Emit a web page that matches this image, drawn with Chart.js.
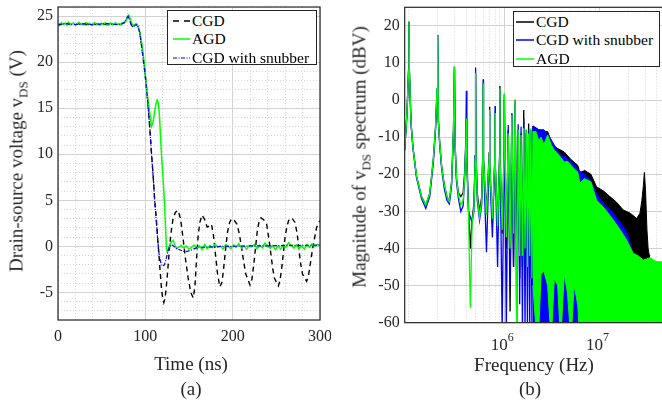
<!DOCTYPE html>
<html>
<head>
<meta charset="utf-8">
<script src="https://cdn.jsdelivr.net/npm/chart.js@4.4.0/dist/chart.umd.min.js"></script>
<style>
  body { margin: 0; background: #fff; }
  #page { position: relative; width: 662px; height: 405px; overflow: hidden;
          font-family: "Liberation Serif", "Times New Roman", serif; color: #262626; }
  canvas { position: absolute; top: 0; }
  .lbl { position: absolute; font-size: 19px; line-height: 19px; white-space: nowrap; }
  .ylbl { transform: translate(-50%, -50%) rotate(-90deg); }
  .xlbl { transform: translate(-50%, -50%); }
  .lbl sub { font-size: 13px; vertical-align: -5px; line-height: 0; }
  .legend { position: absolute; background: #fff; border: 1px solid #262626;
            font-size: 15.5px; color: #000; box-sizing: border-box; padding-top: 1px; }
  .legend div { height: 18.3px; display: flex; align-items: center; white-space: nowrap; }
</style>
</head>
<body>
<div id="page">
  <canvas id="left" width="331" height="405" style="left:0"></canvas>
  <canvas id="right" width="331" height="405" style="left:331px"></canvas>

  <div class="lbl ylbl" style="left:16px; top:161px">Drain-source voltage v<sub>DS</sub> (V)</div>
  <div class="lbl xlbl" style="left:191px; top:363px">Time (ns)</div>
  <div class="lbl xlbl" style="left:191px; top:388px">(a)</div>

  <div class="lbl ylbl" style="left:359px; top:157px">Magnitude of v<sub>DS</sub> spectrum (dBV)</div>
  <div class="lbl xlbl" style="left:534px; top:364px">Frequency (Hz)</div>
  <div class="lbl xlbl" style="left:530px; top:388px">(b)</div>

  <div class="legend" style="left:167px; top:10px; width:150px; height:55px">
    <div><svg width="17" height="4" style="margin:0 2px 0 5px"><line x1="0" y1="2" x2="17" y2="2" stroke="#000" stroke-width="1.4" stroke-dasharray="6,5"/></svg>CGD</div>
    <div><svg width="17" height="4" style="margin:0 2px 0 5px"><line x1="0" y1="2" x2="17" y2="2" stroke="#00ff00" stroke-width="1.5"/></svg>AGD</div>
    <div><svg width="17" height="4" style="margin:0 2px 0 5px"><line x1="0" y1="2" x2="17" y2="2" stroke="#0000ff" stroke-width="1.2" stroke-dasharray="4,1.5,1,1.5"/></svg>CGD with snubber</div>
  </div>

  <div class="legend" style="left:513px; top:11px; width:147px; height:56px">
    <div><svg width="18" height="4" style="margin:0 2px 0 2px"><line x1="0" y1="2" x2="18" y2="2" stroke="#000" stroke-width="1.5"/></svg>CGD</div>
    <div><svg width="18" height="4" style="margin:0 2px 0 2px"><line x1="0" y1="2" x2="18" y2="2" stroke="#0000ff" stroke-width="1.5"/></svg>CGD with snubber</div>
    <div><svg width="18" height="4" style="margin:0 2px 0 2px"><line x1="0" y1="2" x2="18" y2="2" stroke="#00ff00" stroke-width="1.5"/></svg>AGD</div>
  </div>
</div>

<script>
// ---------- (a) drain-source voltage vs time ----------
const tCGD = [0, 8, 16, 24, 32, 40, 48, 56, 64, 72,
  76, 78, 80.3, 82, 84, 86, 88, 89.8, 91.5, 93.6,
  95.5, 97.5, 99.5, 101.3, 103.2, 105.1, 107, 109, 110.8, 112.7,
  114.3, 115.8, 117.2, 118.5, 119.8, 121.2, 122.7, 124.2, 126, 128,
  130, 131.9, 134.5, 137.6, 140.5, 143.3, 146, 149, 152, 154.8,
  156.8, 158.6, 160.5, 162.4, 165, 168, 170.8, 173.5, 175.8, 178,
  180, 182.7, 185.4, 187.8, 190, 192, 194, 196.5, 198.7, 202,
  205, 207.5, 210, 212.5, 215, 219.8, 222, 224, 226, 228,
  230, 232.4, 235.5, 238.9, 241.5, 244, 246, 248, 252.3, 254,
  256, 258, 260, 262, 264, 267.5, 271.4, 274, 276, 278,
  280, 284.7, 286.5, 288, 290, 292, 294, 296, 298, 300];
const vCGD = [24.1, 24.15, 24.1, 24.2, 24.1, 24.15, 24.2, 24.1, 24.15, 24.2,
  24.3, 24.6, 25.0, 24.7, 24.1, 23.8, 23.95, 24.1, 23.9, 23.3,
  22.0, 20.5, 19.0, 17.3, 15.3, 12.9, 10.2, 7.6, 4.9, 2.8,
  0.6, -1.2, -3.0, -4.6, -5.6, -6.1, -5.6, -4.2, -2.2, 0.2,
  1.9, 3.1, 3.7, 3.9, 2.9, 0.8, -1.4, -3.4, -5.0, -5.6,
  -4.4, -1.4, 1.2, 2.6, 3.4, 2.9, 2.1, 2.2, 2.4, 1.2,
  -0.6, -3.0, -4.4, -3.9, -2.1, -0.2, 1.5, 2.6, 3.0, 2.8,
  2.4, 1.4, 0.0, -1.6, -3.0, -4.2, -3.6, -2.1, -0.3, 1.5,
  2.6, 3.1, 2.9, 2.4, 0.8, -1.0, -2.5, -3.5, -4.3, -3.8,
  -2.5, -0.8, 1.0, 2.1, 2.8, 3.1, 2.6, 1.3, -0.5, -2.0,
  -3.0, -3.8, -3.3, -2.5, -1.2, 0.0, 1.0, 2.0, 2.5, 2.8];

const tSnub = [0, 8, 16, 24, 32, 40, 48, 56, 64, 72,
  76, 78, 80.3, 82, 84, 86, 88, 89.8, 91.5, 93.6,
  95.5, 97.5, 99.5, 101.3, 103.2, 105.1, 107, 109, 110.8, 112.7,
  114.3, 115.8, 117.5, 119, 120.4, 122, 124, 126, 128, 130,
  132, 135, 140, 145, 150, 155, 160, 170, 180, 190,
  200, 220, 240, 260, 280, 300];
const vSnub = [24.05, 24.2, 24.1, 24.1, 24.2, 24.05, 24.15, 24.2, 24.1, 24.1,
  24.3, 24.7, 25.0, 24.6, 24.0, 23.8, 24.0, 24.1, 23.9, 23.2,
  21.9, 20.4, 18.9, 17.2, 15.2, 12.8, 10.1, 7.5, 4.8, 2.6,
  0.6, -0.9, -1.7, -2.05, -2.15, -2.0, -1.3, -0.5, 0.05, 0.2,
  0.05, -0.2, -0.4, -0.6, -0.5, -0.3, -0.1, -0.1, -0.05, 0.0,
  0.0, 0.05, 0.05, 0.1, 0.1, 0.15];

const tAGD = [0, 2, 4, 6, 8, 10, 12, 14, 16, 18,
  20, 22, 24, 26, 28, 30, 32, 34, 36, 38,
  40, 42, 44, 46, 48, 50, 52, 54, 56, 58,
  60, 62, 64, 66, 68, 70, 72, 74, 76, 78,
  79.5, 81, 82.5, 84, 86, 88, 89.5, 91, 92.5, 94,
  96, 98, 100, 101.5, 103, 105.1, 107, 108.5, 110, 112,
  113.5, 114.8, 116, 117.2, 118.5, 120.2, 121.5, 122.8, 124.2, 125.2,
  126.5, 128, 130, 131.9, 133.5, 135.7, 138, 141, 144, 147,
  150, 153, 156, 159, 162, 165, 168, 171, 174, 177,
  180, 183, 186, 189, 192, 195, 198, 201, 204, 207,
  210, 213, 216, 219, 222, 225, 228, 231, 234, 237,
  240, 243, 246, 249, 252, 255, 258, 261, 264, 267,
  270, 273, 276, 279, 282, 285, 288, 291, 294, 297,
  300];
const vAGD = [24.2, 24.0, 24.3, 24.1, 24.25, 24.05, 24.35, 24.1, 24.2, 24.3,
  24.0, 24.2, 24.35, 24.1, 24.2, 24.05, 24.3, 24.15, 24.25, 24.05,
  24.2, 24.3, 24.1, 24.2, 24.0, 24.25, 24.1, 24.3, 24.15, 24.05,
  24.25, 24.1, 24.2, 24.3, 24.1, 24.2, 24.05, 24.25, 24.3, 24.5,
  24.9, 25.1, 24.8, 24.3, 24.0, 24.1, 24.2, 24.0, 23.7, 23.1,
  22.0, 20.5, 18.4, 17.0, 15.9, 14.5, 13.0, 13.3, 14.2, 15.4,
  15.9, 15.6, 14.4, 12.3, 10.0, 7.5, 5.5, 2.8, -0.3, -0.6,
  -0.3, 0.2, 0.5, 0.65, 0.2, -0.25, -0.1, 0.1, -0.15, 0.05,
  -0.3, -0.1, 0.15, -0.2, 0.05, -0.35, 0.2, -0.25, 0.1, -0.15,
  0.25, -0.1, 0.05, -0.3, 0.2, 0.0, -0.25, 0.15, -0.1, 0.3,
  -0.2, 0.05, -0.3, 0.1, -0.05, 0.2, -0.25, 0.1, -0.15, 0.35,
  0.0, -0.2, 0.1, -0.35, 0.05, -0.3, 0.15, -0.1, 0.4, 0.1,
  -0.2, 0.15, -0.25, 0.05, -0.3, 0.2, -0.1, 0.25, 0.0, 0.2,
  0.1];

const leftXTicks = [0, 100, 200, 300];
const leftYTicks = [-5, 0, 5, 10, 15, 20, 25];

// ---------- (b) spectrum, frequencies in MHz ----------
// separate harmonics (up to 2 MHz): peak / valley trace
const fLow = [0.09, 0.095, 0.099, 0.1, 0.101, 0.105, 0.11, 0.12, 0.135, 0.15,
  0.165, 0.18, 0.19, 0.197, 0.2, 0.203, 0.21, 0.22, 0.235, 0.25,
  0.265, 0.28, 0.293, 0.3, 0.305, 0.315, 0.33, 0.35, 0.37, 0.385,
  0.395, 0.4, 0.405, 0.42, 0.44, 0.46, 0.48, 0.495, 0.5, 0.505,
  0.52, 0.55, 0.58, 0.595, 0.6, 0.605, 0.65, 0.695, 0.7, 0.705,
  0.75, 0.795, 0.8, 0.805, 0.85, 0.895, 0.9, 0.905, 0.95, 0.995,
  1.0, 1.05, 1.1, 1.15, 1.2, 1.25, 1.3, 1.35, 1.4, 1.45,
  1.5, 1.55, 1.6, 1.65, 1.7, 1.75, 1.8, 1.85, 1.9, 1.95,
  2.0];
const kLow = [-13.5, -4, 8, 21.2, 8, -6, -12.6, -20.5, -25.9, -28.3,
  -25.2, -16, -7.2, 3, 17.5, -5, -11.5, -17.8, -23, -26,
  -27.3, -22, -8, 9, -12, -21, -25, -26, -25, -19,
  -12, -5, -18, -28, -40, -32, -28, -15, 7, -15,
  -25, -30, -26, -14, 4.5, -16, -30, -14, -1.8, -17,
  -33, -16, -3.5, -18, -33, -14, 3.8, -16, -36, -14,
  1.5, -40, -8, -57, -3.6, -45, 0, -40, -8, -48,
  -9, -45, -2.7, -50, -8, -45, -6.3, -48, -8, -50,
  -7];
const bLow = [-13.5, -4.5, 8, 21, 7.5, -6.5, -13, -21, -26.5, -29.2,
  -26, -17, -8, 2.5, 17.5, -5.5, -12, -18.5, -24, -27,
  -28, -23, -9, 9, -13, -22, -26.5, -30, -28.5, -20,
  -10, 2.5, -14, -30, -31.5, -33, -30, -15, 8.8, -14,
  -27, -32.4, -28, -14, 5.6, -16, -41, -16, -3, -18,
  -37, -16, -1.6, -17, -45, -14, 2.5, -16, -62, -14,
  0, -62, -6.7, -50, -3.6, -45, -1, -62, -6.5, -55,
  -7.2, -62, -5, -62, -9, -62, -8, -62, -9, -62,
  -7];
const gLow = [-13.5, -4, 8, 21.2, 8, -6, -12.6, -20.5, -25.9, -28.3,
  -25.2, -16, -7.2, 3, 17.5, -5, -11.5, -17.8, -23, -26,
  -27.3, -22, -8, 9, -12, -21, -25.5, -28.3, -27, -20,
  -12, -5, -18, -29, -56, -33, -29, -16, 7.2, -15,
  -26, -31.5, -27, -15, 4.5, -16, -31, -15, -2.6, -17,
  -32, -16, -3.5, -18, -34, -15, 3.1, -17, -35, -14,
  1.8, -37, -9, -40, -4, -36, 0.2, -62, -8, -42,
  -9.4, -42, -7.6, -40, -8, -45, -9, -42, -7.6, -48,
  -8.5];

// dense harmonics (above 2 MHz): upper / lower envelope of the band
const fDenseK = [2.0, 2.3, 2.6, 2.85, 3.2, 3.6, 4.26, 5.0, 5.9, 6.2,
  7.0, 8.1, 9.3, 11.0, 12.8, 15.0, 17.7, 21.0, 24.5, 26.5,
  27.8, 28.8, 29.5, 30.3, 31.4, 32.3, 33.0, 33.8];
const kTop = [-7, -8, -8.5, -8.5, -12, -13, -14, -16, -17.6, -19.5,
  -19, -20, -23.4, -24.5, -26, -27.5, -29.6, -30.5, -31.9, -30.5,
  -27, -23, -19.5, -24, -35, -40, -41.5, -42];

const fDenseB = [2.0, 2.3, 2.6, 3.0, 3.5, 4.0, 4.5, 5.0, 5.5, 6.0,
  7.0, 8.0, 9.3, 11.0, 13.9, 16.5, 19.2, 21.5, 22.5, 25.0,
  28.0, 31.0, 33.8];
const bTop = [-7, -8, -8, -10, -13, -15, -15.5, -16.5, -17.5, -19,
  -20, -21.6, -25.1, -28, -30.5, -33, -35.5, -39.5, -44.5, -43.5,
  -44, -45, -46];

const fDenseG = [2.0, 2.15, 2.3, 2.43, 2.6, 2.85, 3.1, 3.35, 3.63, 3.9,
  4.26, 4.6, 5.01, 5.4, 5.89, 6.2, 6.9, 8.1, 9.3, 11.5,
  13.9, 16.5, 19.2, 22.5, 25.5, 28.7, 33.8, 39, 45.2];
const gTop = [-8.5, -8.5, -11, -10, -12, -9.4, -12, -13.5, -14.4, -15.5,
  -16.7, -16.5, -17.6, -18.5, -19.4, -22.4, -21.2, -22, -27, -29.5,
  -32.3, -35, -37.7, -41.3, -42, -43.1, -42.5, -43.5, -43.6];
const gBot = [-50, -62, -62, -47, -46, -50, -65, -48, -50, -65,
  -47, -52, -65, -50, -55, -65, -65, -65, -65, -65,
  -65, -65, -65, -65, -65, -65, -65, -65, -65];

const rightXTicks = [1e6, 1e7];
const rightXBase = '10';
const rightXExp = ['6', '7'];
const rightYTicks = [-60, -50, -40, -30, -20, -10, 0, 10, 20];

const BLACK = '#000000', BLUE = '#0000ff', GREEN = '#00ff00';
const TXT = '#262626';
const MAJOR = '#d0d0d0', MINOR = '#d6d6d6';
const FONT = '"Liberation Serif", "Times New Roman", serif';

Chart.defaults.font.family = FONT;
Chart.defaults.font.size = 16;
Chart.defaults.color = TXT;

function pts(xs, ys, k) {
  return xs.map((x, i) => ({ x: x * (k || 1), y: ys[i] }));
}

function setTicks(values) {
  return scale => { scale.ticks = values.map(v => ({ value: v })); };
}

const framePlugin = {
  id: 'frame',
  afterDatasetsDraw(chart) {
    const { ctx, chartArea: a } = chart;
    const extra = chart.canvas.id === 'right' ? 10 : 0;
    ctx.save();
    ctx.strokeStyle = TXT;
    ctx.lineWidth = 1.2;
    ctx.strokeRect(a.left, a.top, a.right - a.left + extra, a.bottom - a.top);
    ctx.restore();
  }
};

// power-of-ten labels with a raised exponent
const powerLabels = {
  id: 'powerLabels',
  afterDraw(chart) {
    const { ctx } = chart;
    const sx = chart.scales.x;
    const yBase = chart.chartArea.bottom + 27;
    ctx.save();
    ctx.fillStyle = TXT;
    ctx.textBaseline = 'alphabetic';
    rightXTicks.forEach((v, i) => {
      const px = sx.getPixelForValue(v);
      ctx.font = '17px ' + FONT;
      const wb = ctx.measureText(rightXBase).width;
      ctx.font = '12px ' + FONT;
      const we = ctx.measureText(rightXExp[i]).width;
      const x0 = px - 2 - (wb + we) / 2;
      ctx.font = '17px ' + FONT;
      ctx.textAlign = 'left';
      ctx.fillText(rightXBase, x0, yBase);
      ctx.font = '12px ' + FONT;
      ctx.fillText(rightXExp[i], x0 + wb, yBase - 8.5);
    });
    ctx.restore();
  }
};

// minor grid positions
const leftXMinor = [], leftYMinor = [], rightXMinor = [];
for (let t = 0; t <= 300; t += 20) leftXMinor.push(t);
for (let v = -8; v <= 26; v++) leftYMinor.push(v);
for (let d = 1e5; d <= 1e7; d *= 10)
  for (let m = 1; m <= 9; m++) if (m * d <= 4.5e7) rightXMinor.push(m * d);

function minorScale(pos, min, max, ticks, type) {
  return {
    type: type || 'linear', position: pos, min: min, max: max,
    afterBuildTicks: setTicks(ticks),
    ticks: { display: false },
    grid: { color: MINOR, lineWidth: 1, drawTicks: false },
    border: { display: false, dash: [1, 2] },
    afterFit: s => {
      if (pos === 'bottom') s.height = 0; else s.width = 0;
      s.paddingLeft = 0; s.paddingRight = 0; s.paddingTop = 0; s.paddingBottom = 0;
    }
  };
}

const common = {
  responsive: false,
  animation: false,
  devicePixelRatio: 1,
  elements: { point: { radius: 0 }, line: { tension: 0 } },
  plugins: { legend: { display: false }, tooltip: { enabled: false } }
};

new Chart(document.getElementById('left'), {
  type: 'line',
  data: {
    datasets: [
      { label: 'CGD with snubber', data: pts(tSnub, vSnub), xAxisID: 'x', yAxisID: 'y',
        borderColor: BLUE, borderWidth: 1.2, borderDash: [4, 1.5, 1, 1.5] },
      { label: 'AGD', data: pts(tAGD, vAGD), xAxisID: 'x', yAxisID: 'y',
        borderColor: GREEN, borderWidth: 1.5 },
      { label: 'CGD', data: pts(tCGD, vCGD), xAxisID: 'x', yAxisID: 'y',
        borderColor: BLACK, borderWidth: 1.4, borderDash: [5, 4] }
    ]
  },
  options: Object.assign({}, common, {
    layout: { padding: { left: 0, top: 7, right: 11, bottom: 0 } },
    scales: {
      x: {
        type: 'linear', position: 'bottom', min: 0, max: 300,
        afterBuildTicks: setTicks(leftXTicks),
        ticks: { padding: 7, maxRotation: 0, autoSkip: false },
        grid: { color: MAJOR, drawTicks: false },
        border: { display: false },
        afterFit: s => { s.height = 85; s.paddingLeft = 0; s.paddingRight = 0; }
      },
      xm: minorScale('bottom', 0, 300, leftXMinor),
      y: {
        type: 'linear', position: 'left', min: -8, max: 26,
        afterBuildTicks: setTicks(leftYTicks),
        ticks: { padding: 5, autoSkip: false },
        grid: { color: MAJOR, drawTicks: false },
        border: { display: false },
        afterFit: s => { s.width = 58; s.paddingTop = 0; s.paddingBottom = 0; }
      },
      ym: minorScale('left', -8, 26, leftYMinor)
    }
  }),
  plugins: [framePlugin]
});

new Chart(document.getElementById('right'), {
  type: 'line',
  data: {
    datasets: [
      { label: 'AGD', data: pts(fDenseG, gTop, 1e6), borderColor: GREEN, backgroundColor: GREEN,
        borderWidth: 1, fill: '+1' },
      { label: 'AGD', data: pts(fDenseG, gBot, 1e6), borderColor: GREEN, borderWidth: 1, fill: false },
      { label: 'AGD', data: pts(fLow, gLow, 1e6), borderColor: GREEN, borderWidth: 1.3, fill: false },
      { label: 'CGD with snubber', data: pts(fDenseB, bTop, 1e6), borderColor: BLUE, backgroundColor: BLUE,
        borderWidth: 1, fill: { value: -65 } },
      { label: 'CGD with snubber', data: pts(fLow, bLow, 1e6), borderColor: BLUE, borderWidth: 1.3, fill: false },
      { label: 'CGD', data: pts(fDenseK, kTop, 1e6), borderColor: BLACK, backgroundColor: BLACK,
        borderWidth: 1, fill: { value: -65 } },
      { label: 'CGD', data: pts(fLow, kLow, 1e6), borderColor: BLACK, borderWidth: 1.3, fill: false }
    ]
  },
  options: Object.assign({}, common, {
    layout: { padding: { left: 0, top: 7.3, right: 0, bottom: 0 } },
    scales: {
      x: {
        type: 'logarithmic', position: 'bottom', min: 9.015e4, max: 4.516e7,
        afterBuildTicks: setTicks(rightXTicks),
        ticks: { padding: 10, maxRotation: 0, autoSkip: false, callback: () => '' },
        grid: { color: MAJOR, drawTicks: false },
        border: { display: false },
        afterFit: s => { s.height = 82.3; s.paddingLeft = 0; s.paddingRight = 0; }
      },
      xm: minorScale('bottom', 9.015e4, 4.516e7, rightXMinor, 'logarithmic'),
      y: {
        type: 'linear', position: 'left', min: -60, max: 25,
        afterBuildTicks: setTicks(rightYTicks),
        ticks: { padding: 5, autoSkip: false },
        grid: { color: MAJOR, drawTicks: false },
        border: { display: false },
        afterFit: s => { s.width = 73.7; s.paddingTop = 0; s.paddingBottom = 0; }
      }
    }
  }),
  plugins: [framePlugin, powerLabels]
});
</script>
</body>
</html>
